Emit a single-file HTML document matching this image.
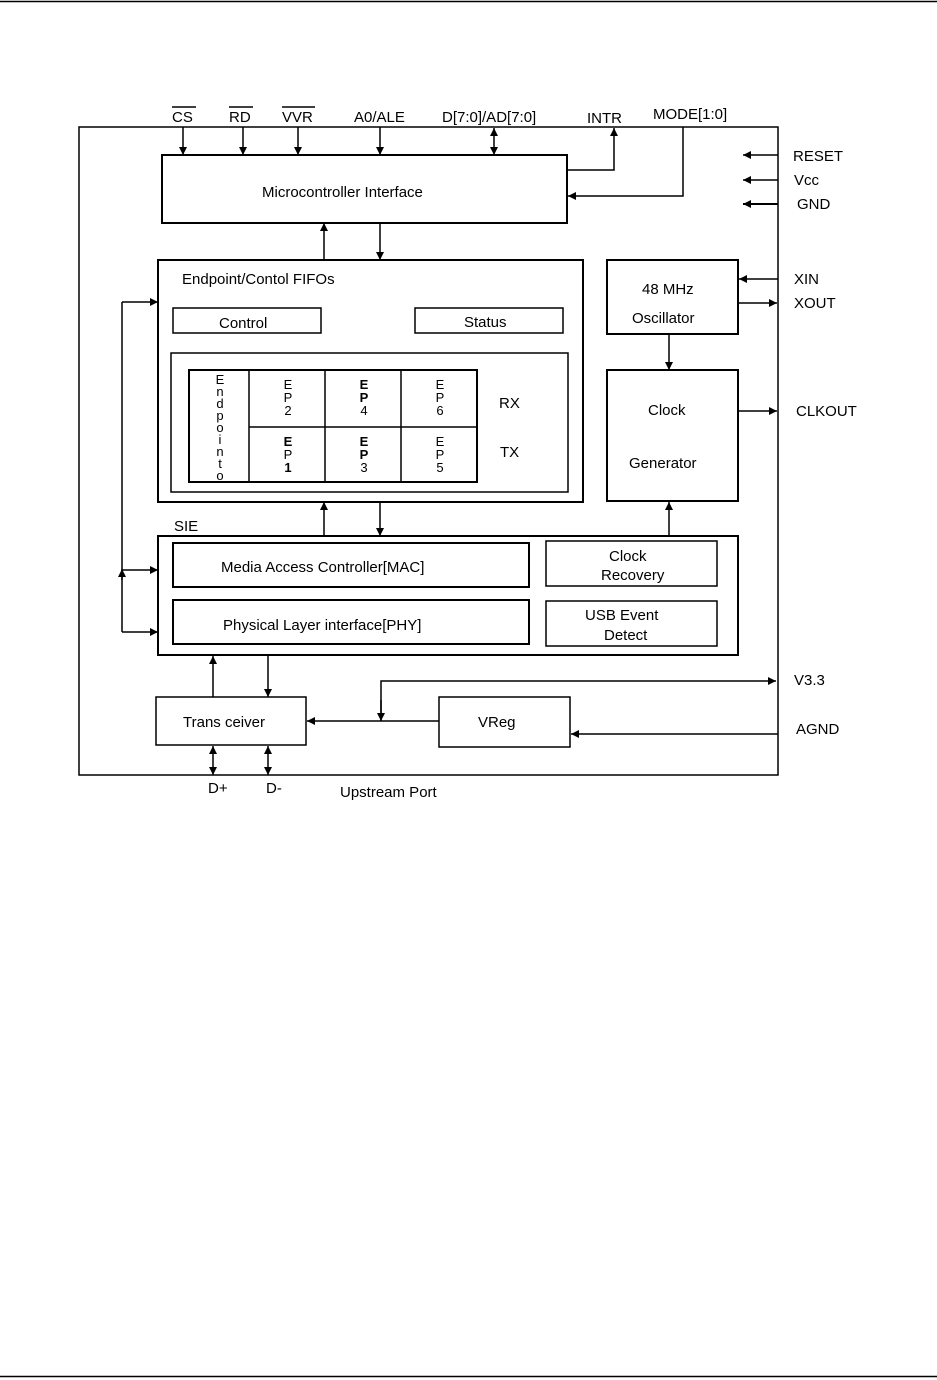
<!DOCTYPE html>
<html><head><meta charset="utf-8"><style>
html,body{margin:0;padding:0;background:#fff}
svg{display:block}
text{font-family:"Liberation Sans",sans-serif;font-size:15px;fill:#000}
</style></head><body>
<svg width="937" height="1380" viewBox="0 0 937 1380" xmlns="http://www.w3.org/2000/svg">
<defs>
<marker id="a" viewBox="0 0 10 10" refX="10" refY="5" markerWidth="8" markerHeight="8" orient="auto-start-reverse" markerUnits="userSpaceOnUse"><path d="M0,0 L10,5 L0,10 z" fill="#000"/></marker>
</defs>
<g stroke="#000" fill="none">
<line x1="0" y1="1.5" x2="937" y2="1.5" stroke-width="1.5"/>
<line x1="0" y1="1376.5" x2="937" y2="1376.5" stroke-width="1.5"/>
<rect x="79" y="127" width="699" height="648" stroke-width="1.5"/>
<rect x="162" y="155" width="405" height="68" stroke-width="2"/>
<rect x="158" y="260" width="425" height="242" stroke-width="2"/>
<rect x="173" y="308" width="148" height="25" stroke-width="1.5"/>
<rect x="415" y="308" width="148" height="25" stroke-width="1.5"/>
<rect x="171" y="353" width="397" height="139" stroke-width="1.5"/>
<rect x="189" y="370" width="288" height="112" stroke-width="2"/>
<line x1="249" y1="370" x2="249" y2="482" stroke-width="1.5"/>
<line x1="325" y1="370" x2="325" y2="482" stroke-width="1.5"/>
<line x1="401" y1="370" x2="401" y2="482" stroke-width="1.5"/>
<line x1="249" y1="427" x2="477" y2="427" stroke-width="1.5"/>
<rect x="607" y="260" width="131" height="74" stroke-width="2"/>
<rect x="607" y="370" width="131" height="131" stroke-width="2"/>
<rect x="158" y="536" width="580" height="119" stroke-width="2"/>
<rect x="173" y="543" width="356" height="44" stroke-width="2"/>
<rect x="173" y="600" width="356" height="44" stroke-width="2"/>
<rect x="546" y="541" width="171" height="45" stroke-width="1.5"/>
<rect x="546" y="601" width="171" height="45" stroke-width="1.5"/>
<rect x="156" y="697" width="150" height="48" stroke-width="1.5"/>
<rect x="439" y="697" width="131" height="50" stroke-width="1.5"/>
<g stroke-width="1.5">
<line x1="183" y1="127" x2="183" y2="155" marker-end="url(#a)"/>
<line x1="243" y1="127" x2="243" y2="155" marker-end="url(#a)"/>
<line x1="298" y1="127" x2="298" y2="155" marker-end="url(#a)"/>
<line x1="380" y1="127" x2="380" y2="155" marker-end="url(#a)"/>
<line x1="494" y1="128" x2="494" y2="155" marker-start="url(#a)" marker-end="url(#a)"/>
<polyline points="567,170 614,170 614,128" marker-end="url(#a)"/>
<polyline points="683,127 683,196 568,196" marker-end="url(#a)"/>
<line x1="778" y1="155" x2="743" y2="155" marker-end="url(#a)"/>
<line x1="778" y1="180" x2="743" y2="180" marker-end="url(#a)"/>
<line x1="778" y1="204" x2="743" y2="204" stroke-width="2" marker-end="url(#a)"/>
<line x1="324" y1="260" x2="324" y2="223" marker-end="url(#a)"/>
<line x1="380" y1="223" x2="380" y2="260" marker-end="url(#a)"/>
<line x1="778" y1="279" x2="739" y2="279" marker-end="url(#a)"/>
<line x1="738" y1="303" x2="777" y2="303" marker-end="url(#a)"/>
<line x1="738" y1="411" x2="777" y2="411" marker-end="url(#a)"/>
<line x1="669" y1="334" x2="669" y2="370" marker-end="url(#a)"/>
<line x1="324" y1="536" x2="324" y2="502" marker-end="url(#a)"/>
<line x1="380" y1="502" x2="380" y2="536" marker-end="url(#a)"/>
<line x1="669" y1="536" x2="669" y2="502" marker-end="url(#a)"/>
<line x1="122" y1="632" x2="122" y2="302"/>
<line x1="122" y1="302" x2="158" y2="302" marker-end="url(#a)"/>
<line x1="122" y1="570" x2="158" y2="570" marker-end="url(#a)"/>
<line x1="122" y1="632" x2="158" y2="632" marker-end="url(#a)"/>
<line x1="122" y1="580" x2="122" y2="569" marker-end="url(#a)"/>
<line x1="213" y1="697" x2="213" y2="656" marker-end="url(#a)"/>
<line x1="268" y1="655" x2="268" y2="697" marker-end="url(#a)"/>
<line x1="439" y1="721" x2="307" y2="721" marker-end="url(#a)"/>
<polyline points="381,721 381,681 776,681" marker-end="url(#a)"/>
<line x1="381" y1="700" x2="381" y2="721" marker-end="url(#a)"/>
<line x1="778" y1="734" x2="571" y2="734" marker-end="url(#a)"/>
<line x1="213" y1="746" x2="213" y2="775" marker-start="url(#a)" marker-end="url(#a)"/>
<line x1="268" y1="746" x2="268" y2="775" marker-start="url(#a)" marker-end="url(#a)"/>
<line x1="172" y1="107" x2="196" y2="107"/>
<line x1="229" y1="107" x2="253" y2="107"/>
<line x1="282" y1="107" x2="315" y2="107"/>
</g>
</g>
<text x="172" y="122">CS</text>
<text x="229" y="122">RD</text>
<text x="282" y="122">VVR</text>
<text x="354" y="122">A0/ALE</text>
<text x="442" y="122">D[7:0]/AD[7:0]</text>
<text x="587" y="123">INTR</text>
<text x="653" y="119">MODE[1:0]</text>
<text x="793" y="161">RESET</text>
<text x="794" y="185">Vcc</text>
<text x="797" y="209">GND</text>
<text x="262" y="197">Microcontroller Interface</text>
<text x="182" y="284">Endpoint/Contol FIFOs</text>
<text x="219" y="328">Control</text>
<text x="464" y="327">Status</text>
<g text-anchor="middle">
<text x="220" y="384" style="font-size:13px">E</text>
<text x="220" y="396" style="font-size:13px">n</text>
<text x="220" y="408" style="font-size:13px">d</text>
<text x="220" y="420" style="font-size:13px">p</text>
<text x="220" y="432" style="font-size:13px">o</text>
<text x="220" y="444" style="font-size:13px">i</text>
<text x="220" y="456" style="font-size:13px">n</text>
<text x="220" y="468" style="font-size:13px">t</text>
<text x="220" y="480" style="font-size:13px">o</text>
</g>
<g text-anchor="middle">
<text x="288" y="389" style="font-size:13px">E</text><text x="288" y="402" style="font-size:13px">P</text><text x="288" y="415" style="font-size:13px">2</text>
<text x="364" y="389" style="font-size:13px;font-weight:bold">E</text><text x="364" y="402" style="font-size:13px;font-weight:bold">P</text><text x="364" y="415" style="font-size:13px">4</text>
<text x="440" y="389" style="font-size:13px">E</text><text x="440" y="402" style="font-size:13px">P</text><text x="440" y="415" style="font-size:13px">6</text>
<text x="288" y="446" style="font-size:13px;font-weight:bold">E</text><text x="288" y="459" style="font-size:13px">P</text><text x="288" y="472" style="font-size:13px;font-weight:bold">1</text>
<text x="364" y="446" style="font-size:13px;font-weight:bold">E</text><text x="364" y="459" style="font-size:13px;font-weight:bold">P</text><text x="364" y="472" style="font-size:13px">3</text>
<text x="440" y="446" style="font-size:13px">E</text><text x="440" y="459" style="font-size:13px">P</text><text x="440" y="472" style="font-size:13px">5</text>
</g>
<text x="499" y="408">RX</text>
<text x="500" y="457">TX</text>
<text x="642" y="294">48 MHz</text>
<text x="632" y="323">Oscillator</text>
<text x="648" y="415">Clock</text>
<text x="629" y="468">Generator</text>
<text x="794" y="284">XIN</text>
<text x="794" y="308">XOUT</text>
<text x="796" y="416">CLKOUT</text>
<text x="174" y="531">SIE</text>
<text x="221" y="572">Media Access Controller[MAC]</text>
<text x="223" y="630">Physical Layer interface[PHY]</text>
<text x="609" y="561">Clock</text>
<text x="601" y="580">Recovery</text>
<text x="585" y="620">USB Event</text>
<text x="604" y="640">Detect</text>
<text x="183" y="727">Trans ceiver</text>
<text x="478" y="727">VReg</text>
<text x="794" y="685">V3.3</text>
<text x="796" y="734">AGND</text>
<text x="208" y="793">D+</text>
<text x="266" y="793">D-</text>
<text x="340" y="797">Upstream Port</text>
</svg>
</body></html>
